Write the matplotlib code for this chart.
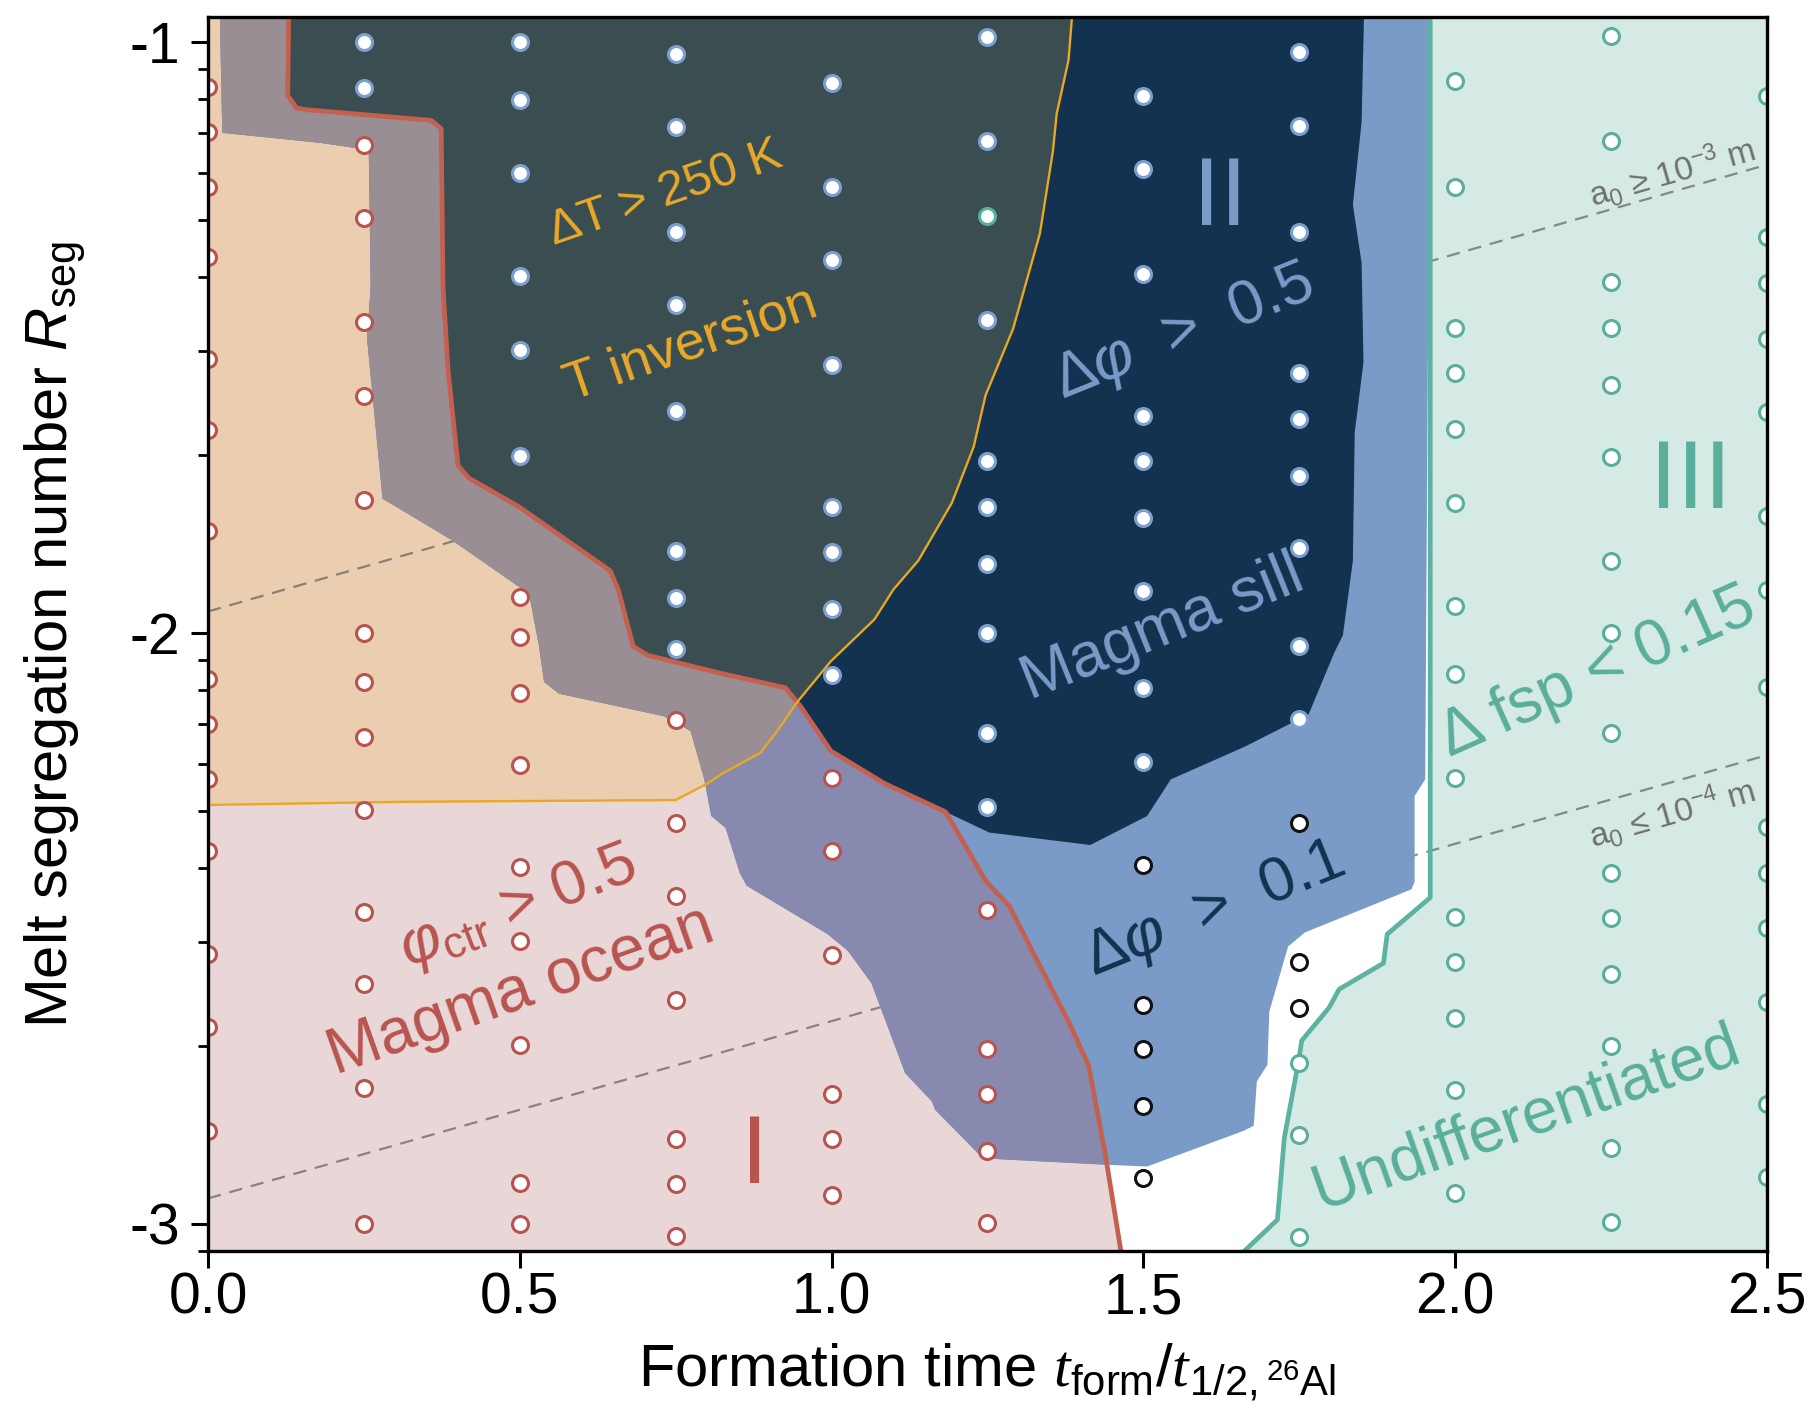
import numpy as np
import matplotlib
matplotlib.use("Agg")
import matplotlib.pyplot as plt
from matplotlib.patches import Polygon

plt.rcParams['font.family'] = ['Liberation Sans', 'DejaVu Sans']
plt.rcParams['mathtext.fontset'] = 'custom'
plt.rcParams['mathtext.rm'] = 'Liberation Sans'
plt.rcParams['mathtext.it'] = 'Liberation Sans:italic'
plt.rcParams['mathtext.bf'] = 'Liberation Sans:bold'
plt.rcParams['mathtext.sf'] = 'Liberation Sans'
plt.rcParams['mathtext.cal'] = 'Liberation Serif:italic'  # serif italic t in the x label

# formation time of the runs (columns of the grid)
t_cols = [0.0, 0.25, 0.5, 0.75, 1.0, 1.25, 1.5, 1.75, 2.0, 2.25, 2.5]

# log10(R_seg) of the runs in each column, sorted by outcome
logR_ocean = [
    [-1.077, -1.152, -1.245, -1.365, -1.536, -1.657, -1.827, -2.078, -2.154, -2.248, -2.370, -2.544, -2.667, -2.843],
    [-1.175, -1.299, -1.474, -1.600, -1.776, -2.0, -2.083, -2.177, -2.299, -2.472, -2.595, -2.771, -3.0],
    [-1.940, -2.007, -2.102, -2.224, -2.397, -2.521, -2.697, -2.931, -3.0],
    [-2.148, -2.322, -2.446, -2.621, -2.857, -2.932, -3.02],
    [-2.246, -2.369, -2.545, -2.781, -2.857, -2.952],
    [-2.469, -2.705, -2.781, -2.876, -2.998],
    [], [], [], [], [],
]
logR_sill = [
    [],
    [-1.0, -1.078],
    [-1.0, -1.098, -1.222, -1.397, -1.522, -1.701],
    [-1.021, -1.145, -1.322, -1.446, -1.624, -1.862, -1.941, -2.027],
    [-1.069, -1.245, -1.369, -1.547, -1.787, -1.864, -1.959, -2.072],
    [-0.992, -1.168, -1.470, -1.710, -1.787, -1.883, -2.0, -2.170, -2.294],
    [-1.091, -1.215, -1.393, -1.633, -1.710, -1.806, -1.930, -2.094, -2.219],
    [-1.017, -1.143, -1.322, -1.561, -1.638, -1.734, -1.857, -2.023, -2.145],
    [], [], [],
]
logR_other = [
    [], [], [], [], [], [],
    [-2.393, -2.629, -2.705, -2.800, -2.923],
    [-2.322, -2.557, -2.634],
    [], [], [],
]
logR_undiff = [
    [], [], [], [], [],
    [-1.294],
    [],
    [-2.728, -2.850, -3.022],
    [-1.066, -1.245, -1.484, -1.561, -1.656, -1.780, -1.955, -2.070, -2.246, -2.481, -2.557, -2.652, -2.774, -2.948],
    [-0.991, -1.168, -1.407, -1.484, -1.580, -1.703, -1.879, -2.0, -2.170, -2.407, -2.483, -2.577, -2.699, -2.872, -2.997],
    [-1.092, -1.330, -1.408, -1.503, -1.626, -1.803, -1.927, -2.092, -2.328, -2.407, -2.500, -2.624, -2.797, -2.921],
]

# regime boundaries (t_form, log10 R_seg)
ocean_edge = [(0.130, -0.90), (0.128, -1.091), (0.142, -1.112), (0.158, -1.115), (0.358, -1.133),
              (0.374, -1.147), (0.377, -1.416), (0.385, -1.556), (0.401, -1.717), (0.418, -1.738),
              (0.499, -1.787), (0.645, -1.895), (0.658, -1.927), (0.682, -2.023), (0.705, -2.038),
              (0.820, -2.068), (0.926, -2.093), (0.950, -2.124), (0.999, -2.200), (1.085, -2.255),
              (1.183, -2.303), (1.248, -2.421), (1.285, -2.462), (1.382, -2.662), (1.412, -2.731),
              (1.438, -2.876), (1.464, -3.046), (1.471, -3.10)]
n_sill_top = 21  # ocean_edge[:21] is also the upper-left edge of the sill
sill_lower = [(1.253, -2.338), (1.415, -2.359), (1.506, -2.310), (1.544, -2.248), (1.662, -2.193),
              (1.765, -2.138), (1.806, -2.034), (1.820, -2.004), (1.836, -1.878), (1.839, -1.661),
              (1.853, -1.542), (1.850, -1.374), (1.836, -1.276), (1.850, -1.136), (1.855, -0.90)]
dphi_edge = [(0.018, -0.90), (0.023, -1.154), (0.180, -1.171), (0.239, -1.180), (0.258, -1.189),
             (0.261, -1.416), (0.255, -1.500), (0.280, -1.773), (0.391, -1.843), (0.515, -1.934),
             (0.531, -2.023), (0.539, -2.083), (0.563, -2.103), (0.731, -2.141), (0.774, -2.166),
             (0.796, -2.248), (0.807, -2.310), (0.830, -2.330), (0.853, -2.407), (0.864, -2.428),
             (0.994, -2.510), (1.026, -2.538), (1.064, -2.593), (1.118, -2.745), (1.161, -2.793),
             (1.166, -2.807), (1.237, -2.883), (1.258, -2.890), (1.440, -2.900)]
dphi_rest = [(1.506, -2.903), (1.660, -2.843), (1.677, -2.834), (1.682, -2.759), (1.699, -2.731),
             (1.702, -2.641), (1.732, -2.531), (1.759, -2.507), (1.930, -2.434), (1.935, -2.421),
             (1.935, -2.276), (1.952, -2.248), (1.960, -0.90)]
dT_edge = [(-0.10, -2.293), (0.309, -2.286), (0.750, -2.283), (0.801, -2.255), (0.825, -2.238),
           (0.886, -2.203), (0.913, -2.166), (0.945, -2.117), (0.999, -2.048), (1.069, -1.977),
           (1.099, -1.927), (1.139, -1.878), (1.193, -1.780), (1.228, -1.685), (1.247, -1.598),
           (1.291, -1.486), (1.334, -1.325), (1.355, -1.185), (1.361, -1.122), (1.380, -1.031),
           (1.390, -0.90)]
fsp_edge = [(1.960, -0.90), (1.960, -2.448), (1.891, -2.510), (1.885, -2.559), (1.814, -2.603),
            (1.798, -2.634), (1.754, -2.690), (1.749, -2.724), (1.726, -2.855), (1.715, -2.993),
            (1.660, -3.048), (1.652, -3.10)]
# grain size lines a0 = 1e-3 m and 1e-4 m
a0_t = [0.0, 2.5]
a0_big = [-1.964, -1.208]
a0_small = [-2.957, -2.207]

fig, ax = plt.subplots(figsize=(18.13, 14.12), dpi=100)
fig.subplots_adjust(left=0.1147, right=0.9746, top=0.988, bottom=0.114)

def poly(pts, color, z):
    p = Polygon(pts, closed=True, facecolor=color, edgecolor='none', lw=0, zorder=z)
    ax.add_patch(p)
    return p

def clip_shape(pts):
    return Polygon(pts, closed=True, transform=ax.transData)

top, bot, right, left = -0.9, -3.1, 2.6, -0.1

ocean_pts = [(left, bot)] + ocean_edge[::-1] + [(left, top)]
band_pts = dphi_edge + ocean_edge[:-3][::-1]
dphi_pts = dphi_edge + dphi_rest
sill_pts = ocean_edge[:n_sill_top] + sill_lower
dT_pts = dT_edge + [(left, top)]
undiff_pts = fsp_edge + [(right, bot), (right, top)]

poly(undiff_pts, '#d6eae5', 1)
poly(ocean_pts, '#e9d6d7', 1)
p = poly(dT_pts, '#ebcdb0', 2)
p.set_clip_path(clip_shape(ocean_pts))

ax.plot(a0_t, a0_big, ls=(0, (6, 4)), color='#555555', alpha=0.65, lw=1.6, zorder=3)
ax.plot(a0_t, a0_small, ls=(0, (6, 4)), color='#555555', alpha=0.65, lw=1.6, zorder=3)

poly(dphi_pts, '#7a9bc8', 4)
poly(band_pts, '#8789ae', 5)
p = poly(dT_pts, '#9a8e95', 6)
p.set_clip_path(clip_shape(band_pts))
poly(sill_pts, '#12324f', 7)
p = poly(dT_pts, '#3a4e51', 8)
p.set_clip_path(clip_shape(sill_pts))

ax.plot(*zip(*ocean_edge), color='#c4604f', lw=3.4, zorder=9)
ax.plot(*zip(*dT_edge), color='#e8a820', lw=1.7, zorder=9)
ax.plot(*zip(*fsp_edge), color='#5eb2a2', lw=3.4, zorder=9)

# runs
styles = [(logR_ocean, '#b85450'), (logR_sill, '#7d9fd0'), (logR_other, '#111111'), (logR_undiff, '#5aae9c')]
for data, ec in styles:
    for t, ys in zip(t_cols, data):
        if ys:
            ax.plot([t] * len(ys), ys, 'o', ms=11.5, mfc='white', mec=ec, mew=2.2, zorder=11)

# labels of the regimes
def lab(x, y, s, c, size, rot=0):
    ax.text(x, y, s, color=c, fontsize=size, rotation=rot, rotation_mode='anchor',
            ha='center', va='center', zorder=10)

lab(0.734, -1.257, 'ΔT > 250 K', '#e9a92a', 35, 19)
lab(0.775, -1.512, 'T inversion', '#e9a92a', 39, 19)
lab(1.623, -1.267, 'II', '#7a9bc8', 70)
lab(1.565, -1.493, r'$\Delta\varphi$  >  0.5', '#7a9bc8', 45, 22)
lab(1.530, -1.993, 'Magma sill', '#7a9bc8', 45, 22)
lab(1.614, -2.470, r'$\Delta\varphi$  >  0.1', '#12324f', 45, 22)
lab(0.497, -2.466, r'$\varphi_{\mathrm{ctr}}$ > 0.5', '#b85450', 45, 21)
lab(0.501, -2.607, 'Magma ocean', '#b85450', 46, 19.5)
lab(0.877, -2.889, 'I', '#b85450', 70)
lab(2.378, -1.746, 'III', '#5aae9c', 70)
lab(2.229, -2.067, 'Δ fsp < 0.15', '#5aae9c', 46, 24)
lab(2.114, -2.821, 'Undifferentiated', '#5aae9c', 46, 19.5)
lab(2.348, -1.220, r'a$_0$ ≥ 10$^{-3}$ m', '#707070', 24, 16)
lab(2.348, -2.305, r'a$_0$ ≤ 10$^{-4}$ m', '#707070', 24, 16)

ax.set_xlim(0, 2.5)
ax.set_ylim(-3.046, -0.958)
ax.set_xticks([0, 0.5, 1.0, 1.5, 2.0, 2.5])
ax.set_yticks([-3, -2, -1])
ax.set_yticklabels(['-3', '-2', '-1'])
minor = [np.log10(k * 10.0 ** n) for n in (-4, -3, -2) for k in range(2, 10)]
ax.set_yticks([m for m in minor if -3.05 < m < -0.95], minor=True)
ax.tick_params(axis='both', which='major', length=12, width=2.2, labelsize=41)
ax.tick_params(axis='y', which='major', pad=8)
ax.tick_params(axis='x', which='major', pad=3)
ax.tick_params(axis='y', which='minor', length=7, width=2.0)
for s in ax.spines.values():
    s.set_linewidth(2.4)
    s.set_zorder(12)

ax.set_xlabel(r'Formation time $\mathcal{t}_{\mathrm{form}}/\mathcal{t}_{1/2,{}^{26}\mathrm{Al}}$', fontsize=43)
ax.set_ylabel(r'Melt segregation number $R_{\mathrm{seg}}$', fontsize=43)
ax.xaxis.set_label_coords(0.5, -0.073)
ax.yaxis.set_label_coords(-0.077, 0.5)

fig.savefig('out.png', dpi=100)
